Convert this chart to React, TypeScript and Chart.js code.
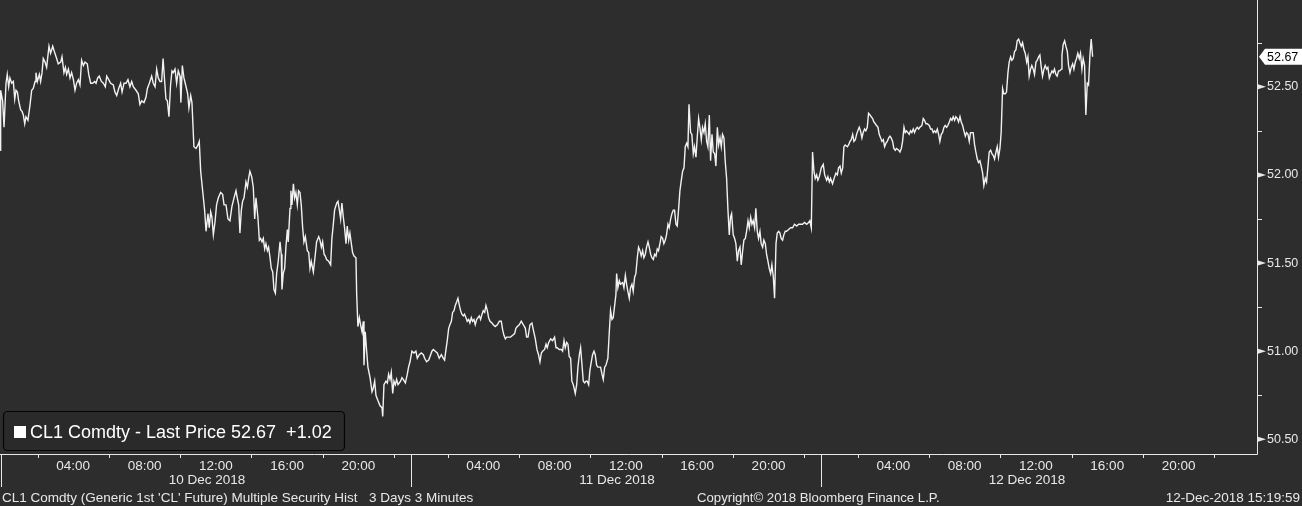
import React, { useEffect, useRef } from "react";
import { Chart, registerables } from "chart.js";

Chart.register(...registerables);

// ---- Data: 3-minute CL1 prices, x = trading hours elapsed since 10 Dec 00:00
// (the daily 22:00-23:00 settlement break is removed, as on the Bloomberg axis)
const DEC10_HOURS = [
  -0.10, -0.07, 0.04, 0.12, 0.23, 0.30, 0.38, 0.45, 0.55, 0.64, 0.72, 0.79, 0.87, 0.94, 1.05, 1.13, 1.20, 1.28, 1.35, 1.46,
  1.58, 1.67, 1.76, 1.86, 1.91, 1.99, 2.10, 2.17, 2.25, 2.32, 2.42, 2.51, 2.64, 2.73, 2.85, 2.94, 3.07, 3.16, 3.30, 3.37,
  3.48, 3.56, 3.63, 3.73, 3.82, 3.91, 4.01, 4.10, 4.19, 4.29, 4.38, 4.47, 4.57, 4.66, 4.79, 4.87, 4.98, 5.09, 5.20, 5.28,
  5.37, 5.46, 5.58, 5.69, 5.80, 5.88, 5.99, 6.10, 6.25, 6.34, 6.44, 6.55, 6.66, 6.74, 6.85, 6.96, 7.07, 7.18, 7.28, 7.37,
  7.52, 7.65, 7.74, 7.84, 7.97, 8.08, 8.16, 8.27, 8.40, 8.49, 8.59, 8.68, 8.77, 8.87, 8.96, 9.04, 9.13, 9.20, 9.28, 9.37,
  9.46, 9.54, 9.61, 9.71, 9.80, 9.89, 9.99, 10.04, 10.12, 10.21, 10.33, 10.42, 10.49, 10.59, 10.66, 10.77, 10.89, 11.00, 11.07, 11.15,
  11.26, 11.37, 11.45, 11.56, 11.63, 11.71, 11.78, 11.86, 11.95, 12.04, 12.14, 12.27, 12.38, 12.46, 12.57, 12.68, 12.79, 12.90, 13.02, 13.13,
  13.20, 13.28, 13.35, 13.43, 13.50, 13.58, 13.69, 13.77, 13.84, 13.91, 14.01, 14.10, 14.18, 14.25, 14.36, 14.44, 14.51, 14.59, 14.66, 14.74,
  14.81, 14.89, 14.96, 15.04, 15.11, 15.19, 15.26, 15.34, 15.41, 15.50, 15.60, 15.67, 15.71, 15.78, 15.86, 15.93, 16.01, 16.06, 16.16, 16.21,
  16.27, 16.35, 16.42, 16.49, 16.57, 16.64, 16.72, 16.79, 16.87, 16.94, 17.02, 17.13, 17.21, 17.28, 17.35, 17.47, 17.58, 17.65, 17.77, 17.84,
  17.92, 17.99, 18.07, 18.14, 18.21, 18.33, 18.44, 18.51, 18.59, 18.66, 18.78, 18.85, 18.93, 19.00, 19.07, 19.15, 19.22, 19.30, 19.37, 19.45,
  19.52, 19.60, 19.67, 19.75, 19.86, 19.90, 19.97, 20.05, 20.12, 20.20, 20.27, 20.31, 20.38, 20.46, 20.53, 20.65, 20.76, 20.83, 20.91, 20.98,
  21.09, 21.21, 21.32, 21.36, 21.43, 21.54, 21.62, 21.69, 21.77, 21.84, 21.92, 21.99, 22.07, 22.14, 22.22, 22.29, 22.36, 22.44, 22.51, 22.63,
  22.74, 22.81, 22.89,
];
const DEC10_PRICES = [
  52.14, 52.48, 52.42, 52.27, 52.52, 52.57, 52.50, 52.55, 52.52, 52.53, 52.43, 52.48, 52.47, 52.42, 52.37, 52.36, 52.34, 52.29, 52.33, 52.31,
  52.40, 52.48, 52.49, 52.53, 52.58, 52.53, 52.57, 52.53, 52.58, 52.66, 52.64, 52.61, 52.73, 52.69, 52.73, 52.70, 52.66, 52.63, 52.64, 52.67,
  52.58, 52.61, 52.57, 52.60, 52.55, 52.58, 52.54, 52.48, 52.52, 52.54, 52.51, 52.65, 52.62, 52.64, 52.63, 52.57, 52.52, 52.52, 52.53, 52.52,
  52.55, 52.56, 52.53, 52.52, 52.50, 52.56, 52.54, 52.52, 52.51, 52.47, 52.45, 52.49, 52.52, 52.47, 52.52, 52.52, 52.54, 52.50, 52.53, 52.50,
  52.48, 52.46, 52.40, 52.42, 52.41, 52.44, 52.49, 52.52, 52.56, 52.52, 52.50, 52.60, 52.55, 52.53, 52.53, 52.66, 52.53, 52.43, 52.42, 52.33,
  52.51, 52.59, 52.58, 52.60, 52.52, 52.59, 52.56, 52.41, 52.62, 52.55, 52.50, 52.46, 52.38, 52.45, 52.41, 52.16, 52.15, 52.17, 52.19, 52.02,
  51.91, 51.80, 51.68, 51.78, 51.70, 51.79, 51.76, 51.66, 51.73, 51.83, 51.87, 51.90, 51.89, 51.83, 51.83, 51.75, 51.74, 51.82, 51.87, 51.91,
  51.87, 51.83, 51.67, 51.80, 51.85, 51.87, 51.96, 51.93, 51.98, 52.02, 51.99, 51.93, 51.75, 51.87, 51.76, 51.63, 51.64, 51.62, 51.64, 51.58,
  51.61, 51.57, 51.59, 51.53, 51.47, 51.45, 51.35, 51.33, 51.44, 51.51, 51.62, 51.55, 51.35, 51.44, 51.47, 51.59, 51.69, 51.62, 51.81, 51.91,
  51.83, 51.95, 51.87, 51.90, 51.83, 51.91, 51.90, 51.83, 51.70, 51.62, 51.65, 51.57, 51.56, 51.47, 51.51, 51.45, 51.55, 51.62, 51.65, 51.63,
  51.59, 51.62, 51.55, 51.54, 51.52, 51.51, 51.49, 51.64, 51.72, 51.80, 51.84, 51.85, 51.80, 51.75, 51.84, 51.76, 51.70, 51.61, 51.71, 51.63,
  51.67, 51.61, 51.56, 51.54, 51.53, 51.32, 51.14, 51.19, 51.15, 51.11, 51.17, 50.92, 51.11, 51.00, 50.91, 50.85, 50.77, 50.79, 50.83, 50.75,
  50.72, 50.69, 50.68, 50.63, 50.81, 50.83, 50.82, 50.87, 50.84, 50.88, 50.76, 50.83, 50.81, 50.84, 50.81, 50.82, 50.83, 50.85, 50.84, 50.82,
  50.87, 50.91, 50.94,
];

const DEC11_HOURS = [
  23.00, 23.11, 23.22, 23.30, 23.41, 23.52, 23.64, 23.71, 23.82, 23.94, 24.05, 24.12, 24.20, 24.31, 24.42, 24.53, 24.65, 24.76, 24.83, 24.91,
  24.98, 25.06, 25.13, 25.21, 25.28, 25.36, 25.43, 25.51, 25.58, 25.66, 25.73, 25.80, 25.88, 25.95, 26.03, 26.10, 26.18, 26.25, 26.33, 26.40,
  26.48, 26.55, 26.63, 26.70, 26.78, 26.85, 26.93, 27.00, 27.08, 27.15, 27.23, 27.30, 27.38, 27.49, 27.56, 27.67, 27.79, 27.90, 28.01, 28.09,
  28.16, 28.24, 28.31, 28.42, 28.53, 28.65, 28.76, 28.83, 28.91, 29.02, 29.13, 29.25, 29.36, 29.43, 29.51, 29.62, 29.73, 29.81, 29.92, 30.01,
  30.10, 30.18, 30.26, 30.33, 30.44, 30.52, 30.59, 30.67, 30.78, 30.89, 31.00, 31.08, 31.15, 31.26, 31.38, 31.45, 31.53, 31.60, 31.68, 31.75,
  31.82, 31.90, 31.97, 32.05, 32.16, 32.24, 32.31, 32.39, 32.46, 32.54, 32.61, 32.69, 32.76, 32.83, 32.91, 32.98, 33.06, 33.13, 33.21, 33.28,
  33.36, 33.43, 33.51, 33.58, 33.66, 33.73, 33.81, 33.88, 33.99, 34.07, 34.14, 34.22, 34.29, 34.37, 34.44, 34.48, 34.55, 34.63, 34.70, 34.82,
  34.89, 34.97, 35.04, 35.11, 35.19, 35.26, 35.34, 35.41, 35.49, 35.56, 35.64, 35.71, 35.79, 35.86, 35.94, 36.01, 36.09, 36.16, 36.24, 36.31,
  36.39, 36.46, 36.54, 36.61, 36.69, 36.76, 36.83, 36.91, 36.98, 37.06, 37.13, 37.21, 37.28, 37.36, 37.43, 37.51, 37.58, 37.66, 37.73, 37.81,
  37.88, 37.96, 38.03, 38.11, 38.18, 38.26, 38.33, 38.41, 38.48, 38.54, 38.63, 38.70, 38.78, 38.85, 38.93, 39.00, 39.08, 39.15, 39.23, 39.30,
  39.38, 39.45, 39.53, 39.60, 39.68, 39.75, 39.83, 39.90, 39.98, 40.05, 40.13, 40.20, 40.28, 40.35, 40.42, 40.50, 40.57, 40.65, 40.72, 40.80,
  40.87, 40.93, 41.02, 41.10, 41.17, 41.25, 41.32, 41.40, 41.47, 41.55, 41.62, 41.70, 41.77, 41.85, 41.92, 42.00, 42.07, 42.14, 42.22, 42.29,
  42.37, 42.44, 42.52, 42.59, 42.67, 42.74, 42.82, 42.89, 42.97, 43.04, 43.12, 43.19, 43.27, 43.34, 43.42, 43.49, 43.57, 43.64, 43.71, 43.79,
  43.86, 43.94, 44.01, 44.13, 44.24, 44.35, 44.46, 44.58, 44.69, 44.80, 44.91, 45.02, 45.14, 45.25, 45.32, 45.40, 45.47, 45.55, 45.62, 45.70,
  45.77, 45.85, 45.96,
];
const DEC11_PRICES = [
  51.00, 50.99, 51.00, 50.96, 50.98, 50.99, 50.98, 50.96, 50.94, 50.95, 50.98, 51.00, 51.01, 51.00, 50.99, 50.96, 50.98, 50.96, 50.95, 51.01,
  51.06, 51.13, 51.15, 51.17, 51.22, 51.23, 51.26, 51.28, 51.30, 51.26, 51.23, 51.21, 51.20, 51.21, 51.19, 51.17, 51.18, 51.16, 51.19, 51.17,
  51.18, 51.15, 51.18, 51.19, 51.20, 51.18, 51.21, 51.23, 51.22, 51.26, 51.23, 51.19, 51.17, 51.16, 51.15, 51.14, 51.15, 51.17, 51.17, 51.12,
  51.09, 51.07, 51.08, 51.08, 51.08, 51.09, 51.10, 51.13, 51.14, 51.15, 51.17, 51.15, 51.13, 51.08, 51.08, 51.15, 51.16, 51.12, 51.07, 51.01,
  50.98, 50.94, 50.99, 51.00, 51.01, 51.04, 51.02, 51.05, 51.07, 51.06, 51.08, 51.02, 51.02, 51.01, 51.01, 51.00, 51.06, 51.02, 51.05, 51.04,
  50.97, 50.96, 50.83, 50.81, 50.76, 50.81, 50.91, 50.98, 51.02, 50.92, 50.83, 50.82, 50.83, 50.83, 50.81, 50.89, 50.94, 50.98, 51.00, 50.98,
  50.92, 50.91, 50.91, 50.91, 50.87, 50.84, 50.91, 50.92, 50.96, 51.11, 51.23, 51.18, 51.19, 51.26, 51.32, 51.44, 51.36, 51.40, 51.38, 51.39,
  51.36, 51.43, 51.38, 51.34, 51.30, 51.36, 51.38, 51.34, 51.42, 51.44, 51.53, 51.59, 51.57, 51.54, 51.57, 51.53, 51.55, 51.59, 51.62, 51.59,
  51.55, 51.53, 51.52, 51.55, 51.54, 51.58, 51.57, 51.61, 51.65, 51.64, 51.61, 51.63, 51.66, 51.72, 51.70, 51.75, 51.78, 51.80, 51.80, 51.72,
  51.71, 51.81, 51.91, 51.97, 52.02, 52.04, 52.16, 52.18, 52.16, 52.40, 52.24, 52.23, 52.12, 52.16, 52.10, 52.21, 52.32, 52.27, 52.20, 52.27,
  52.24, 52.29, 52.19, 52.16, 52.34, 52.08, 52.23, 52.13, 52.12, 52.05, 52.27, 52.17, 52.21, 52.16, 52.23, 52.21, 52.08, 51.98, 51.81, 51.66,
  51.76, 51.78, 51.66, 51.64, 51.61, 51.51, 51.57, 51.59, 51.49, 51.57, 51.63, 51.64, 51.68, 51.74, 51.70, 51.76, 51.72, 51.74, 51.70, 51.81,
  51.68, 51.64, 51.68, 51.61, 51.59, 51.63, 51.61, 51.55, 51.51, 51.47, 51.44, 51.49, 51.42, 51.30, 51.61, 51.67, 51.68, 51.67, 51.64, 51.63,
  51.66, 51.68, 51.68, 51.69, 51.70, 51.70, 51.72, 51.71, 51.72, 51.72, 51.72, 51.73, 51.72, 51.73, 51.74, 51.70, 52.13, 52.02, 51.98, 52.00,
  51.97, 51.99, 52.04,
];

const DEC12_HOURS = [
  46.07, 46.15, 46.26, 46.33, 46.41, 46.48, 46.59, 46.71, 46.78, 46.86, 46.93, 47.01, 47.08, 47.16, 47.23, 47.30, 47.42, 47.49, 47.57, 47.64,
  47.72, 47.79, 47.87, 47.94, 48.01, 48.09, 48.16, 48.24, 48.31, 48.39, 48.46, 48.54, 48.61, 48.69, 48.76, 48.84, 48.91, 48.99, 49.06, 49.14,
  49.21, 49.29, 49.36, 49.44, 49.51, 49.59, 49.66, 49.74, 49.81, 49.88, 49.96, 50.03, 50.11, 50.18, 50.30, 50.37, 50.45, 50.52, 50.60, 50.67,
  50.74, 50.82, 50.89, 50.97, 51.04, 51.12, 51.19, 51.27, 51.34, 51.42, 51.49, 51.60, 51.68, 51.75, 51.83, 51.90, 52.02, 52.09, 52.17, 52.24,
  52.32, 52.39, 52.47, 52.54, 52.61, 52.69, 52.76, 52.84, 52.91, 52.99, 53.06, 53.14, 53.21, 53.29, 53.36, 53.44, 53.51, 53.59, 53.66, 53.74,
  53.81, 53.89, 53.96, 54.04, 54.11, 54.19, 54.26, 54.33, 54.41, 54.48, 54.56, 54.63, 54.71, 54.78, 54.86, 54.93, 55.01, 55.08, 55.16, 55.23,
  55.31, 55.38, 55.46, 55.53, 55.61, 55.68, 55.76, 55.83, 55.90, 55.98, 56.05, 56.13, 56.20, 56.28, 56.35, 56.43, 56.50, 56.58, 56.65, 56.73,
  56.80, 56.88, 56.95, 57.03, 57.10, 57.18, 57.25, 57.33, 57.40, 57.48, 57.55, 57.62, 57.70, 57.77, 57.85, 57.92, 58.00, 58.07, 58.15, 58.22,
  58.30, 58.37, 58.45, 58.52, 58.60, 58.67, 58.75, 58.82, 58.90, 58.97, 59.04, 59.12, 59.19, 59.27, 59.34, 59.42, 59.46, 59.53, 59.61, 59.68,
  59.76, 59.83, 59.91, 59.98, 60.06, 60.13, 60.21, 60.28, 60.35, 60.43, 60.50, 60.58, 60.65, 60.73, 60.80, 60.88, 60.95, 61.03, 61.10, 61.18,
];
const DEC12_PRICES = [
  52.06, 52.00, 51.97, 51.99, 51.96, 51.98, 51.95, 51.99, 52.01, 52.00, 52.04, 52.05, 52.01, 52.04, 52.16, 52.17, 52.16, 52.17, 52.19, 52.20,
  52.23, 52.19, 52.20, 52.23, 52.25, 52.27, 52.25, 52.21, 52.24, 52.26, 52.25, 52.27, 52.35, 52.34, 52.33, 52.32, 52.30, 52.29, 52.28, 52.27,
  52.23, 52.21, 52.19, 52.20, 52.16, 52.18, 52.19, 52.21, 52.22, 52.21, 52.19, 52.15, 52.14, 52.15, 52.14, 52.13, 52.15, 52.19, 52.27, 52.24,
  52.25, 52.24, 52.23, 52.25, 52.24, 52.26, 52.24, 52.26, 52.27, 52.26, 52.27, 52.28, 52.32, 52.31, 52.29, 52.29, 52.28, 52.26, 52.26, 52.24,
  52.25, 52.24, 52.26, 52.23, 52.19, 52.23, 52.24, 52.27, 52.28, 52.27, 52.28, 52.30, 52.32, 52.31, 52.33, 52.31, 52.33, 52.32, 52.30, 52.33,
  52.30, 52.28, 52.25, 52.22, 52.24, 52.23, 52.19, 52.24, 52.24, 52.24, 52.17, 52.13, 52.09, 52.07, 52.08, 52.05, 52.01, 51.94, 51.98, 51.96,
  52.05, 52.13, 52.14, 52.12, 52.11, 52.09, 52.13, 52.16, 52.10, 52.15, 52.24, 52.49, 52.46, 52.46, 52.47, 52.58, 52.64, 52.67, 52.65, 52.66,
  52.70, 52.71, 52.76, 52.77, 52.75, 52.73, 52.75, 52.71, 52.69, 52.64, 52.67, 52.56, 52.60, 52.62, 52.60, 52.57, 52.64, 52.65, 52.67, 52.68,
  52.61, 52.56, 52.60, 52.62, 52.60, 52.61, 52.55, 52.57, 52.59, 52.58, 52.60, 52.57, 52.56, 52.59, 52.59, 52.60, 52.68, 52.74, 52.76, 52.73,
  52.70, 52.62, 52.58, 52.61, 52.63, 52.60, 52.64, 52.66, 52.69, 52.66, 52.69, 52.60, 52.66, 52.62, 52.34, 52.52, 52.51, 52.68, 52.77, 52.67,
];

// ---- Axis / labels
const Y_MAJOR_TICKS = [50.5, 51.0, 51.5, 52.0, 52.5];
const Y_MINOR_TICKS = [50.75, 51.25, 51.75, 52.25, 52.75];
const TIME_LABEL_HOURS = [4, 8, 12, 16, 20, 27, 31, 35, 39, 43, 50, 54, 58, 62, 66];
const TIME_LABELS = [
  "04:00", "08:00", "12:00", "16:00", "20:00",
  "04:00", "08:00", "12:00", "16:00", "20:00",
  "04:00", "08:00", "12:00", "16:00", "20:00",
];
const TIME_TICK_HOURS = [2, 6, 10, 14, 18, 22, 25, 29, 33, 37, 41, 45, 48, 52, 56, 60, 64, 68];
const DAY_START_HOURS = [0, 23, 46];
const DATE_LABELS = ["10 Dec 2018", "11 Dec 2018", "12 Dec 2018"];
const DATE_CENTER_HOURS = [11.5, 34.5, 57.5];
const LAST_PRICE = 52.67;
const LEGEND_TEXT = "CL1 Comdty - Last Price 52.67  +1.02";
const FOOTER_LEFT = "CL1 Comdty (Generic 1st 'CL' Future) Multiple Security Hist";
const FOOTER_PERIOD = "3 Days 3 Minutes";
const FOOTER_COPYRIGHT = "Copyright\u00A9 2018 Bloomberg Finance L.P.";
const FOOTER_STAMP = "12-Dec-2018 15:19:59";

const X_MIN = -0.107;
const X_MAX = 70.4;
const Y_MIN = 50.417;
const Y_MAX = 52.992;

const BG = "#2d2d2d";
const FG = "#e8e8e8";
const LINE = "#f2f2f2";
const FONT = '"Liberation Sans", Arial, sans-serif';

const decorPlugin = {
  id: "bbgDecor",
  afterDraw(chart: any) {
    const { ctx, chartArea: a, scales } = chart;
    const x = scales.x;
    const y = scales.y;
    ctx.save();
    ctx.strokeStyle = FG;
    ctx.fillStyle = FG;
    ctx.lineWidth = 1;

    // frame: right border + bottom axis line
    ctx.beginPath();
    ctx.moveTo(a.right + 0.5, 0);
    ctx.lineTo(a.right + 0.5, a.bottom + 0.5);
    ctx.lineTo(0, a.bottom + 0.5);
    ctx.stroke();

    // y minor ticks
    ctx.beginPath();
    for (const v of Y_MINOR_TICKS) {
      const py = Math.round(y.getPixelForValue(v)) + 0.5;
      ctx.moveTo(a.right, py);
      ctx.lineTo(a.right + 5, py);
    }
    ctx.stroke();
    // y major tick pointers
    for (const v of Y_MAJOR_TICKS) {
      const py = y.getPixelForValue(v);
      ctx.beginPath();
      ctx.moveTo(a.right + 1, py - 2.5);
      ctx.lineTo(a.right + 9, py);
      ctx.lineTo(a.right + 1, py + 2.5);
      ctx.closePath();
      ctx.fill();
    }

    // x ticks and day separators
    ctx.beginPath();
    for (const h of TIME_TICK_HOURS) {
      const px = Math.round(x.getPixelForValue(h)) + 0.5;
      ctx.moveTo(px, a.bottom);
      ctx.lineTo(px, a.bottom + 4);
    }
    for (const h of DAY_START_HOURS) {
      const px = Math.round(x.getPixelForValue(h)) - 0.5;
      ctx.moveTo(px, a.bottom);
      ctx.lineTo(px, a.bottom + 33);
    }
    ctx.stroke();

    // time + date labels
    ctx.font = `13.5px ${FONT}`;
    ctx.textAlign = "center";
    ctx.textBaseline = "alphabetic";
    TIME_LABEL_HOURS.forEach((h, i) => {
      ctx.fillText(TIME_LABELS[i], x.getPixelForValue(h), a.bottom + 16);
    });
    DATE_CENTER_HOURS.forEach((h, i) => {
      ctx.fillText(DATE_LABELS[i], x.getPixelForValue(h), a.bottom + 30);
    });

    // footer
    ctx.textAlign = "left";
    ctx.fillText(FOOTER_LEFT, 2, a.bottom + 48);
    ctx.fillText(FOOTER_PERIOD, 369, a.bottom + 48);
    ctx.font = `13.2px ${FONT}`;
    ctx.fillText(FOOTER_COPYRIGHT, 697, a.bottom + 48);
    ctx.font = `13.5px ${FONT}`;
    ctx.textAlign = "right";
    ctx.fillText(FOOTER_STAMP, chart.width - 2, a.bottom + 48);

    // last price tag
    const ly = y.getPixelForValue(LAST_PRICE);
    ctx.fillStyle = "#ffffff";
    ctx.beginPath();
    ctx.moveTo(a.right + 2, ly);
    ctx.lineTo(a.right + 8, ly - 8);
    ctx.lineTo(chart.width, ly - 8);
    ctx.lineTo(chart.width, ly + 8);
    ctx.lineTo(a.right + 8, ly + 8);
    ctx.closePath();
    ctx.fill();
    ctx.fillStyle = "#000000";
    ctx.textAlign = "left";
    ctx.textBaseline = "middle";
    ctx.font = `12.5px ${FONT}`;
    ctx.fillText(LAST_PRICE.toFixed(2), a.right + 10, ly + 0.5);

    // legend box
    ctx.fillStyle = "#2a2a2a";
    ctx.strokeStyle = "#050505";
    ctx.lineWidth = 1.2;
    ctx.beginPath();
    ctx.roundRect(3.5, 411.5, 341, 39, 4);
    ctx.fill();
    ctx.stroke();
    ctx.fillStyle = "#ffffff";
    ctx.fillRect(14, 426, 12, 12);
    ctx.textBaseline = "alphabetic";
    ctx.font = `18px ${FONT}`;
    ctx.fillText(LEGEND_TEXT, 30, 438);

    ctx.restore();
  },
};

export default function App() {
  const ref = useRef<HTMLCanvasElement | null>(null);

  useEffect(() => {
    if (!ref.current) return;
    const hours = [...DEC10_HOURS, ...DEC11_HOURS, ...DEC12_HOURS];
    const prices = [...DEC10_PRICES, ...DEC11_PRICES, ...DEC12_PRICES];
    const points = hours.map((h, i) => ({ x: h, y: prices[i] }));

    const chart = new Chart(ref.current, {
      type: "line",
      data: {
        datasets: [
          {
            label: "CL1 Comdty - Last Price",
            data: points,
            borderColor: LINE,
            borderWidth: 1.4,
            pointRadius: 0,
            tension: 0,
            fill: false,
          },
        ],
      },
      options: {
        responsive: false,
        animation: false,
        devicePixelRatio: 1,
        parsing: false,
        layout: { padding: 0 },
        plugins: { legend: { display: false }, tooltip: { enabled: false } },
        scales: {
          x: {
            type: "linear",
            min: X_MIN,
            max: X_MAX,
            afterFit: (s: any) => {
              s.height = 52;
              s.paddingLeft = 0;
              s.paddingRight = 0;
              s.paddingTop = 0;
              s.paddingBottom = 0;
            },
            ticks: { display: false },
            grid: { display: false },
            border: { display: false },
          },
          y: {
            type: "linear",
            position: "right",
            min: Y_MIN,
            max: Y_MAX,
            afterFit: (s: any) => {
              s.width = 45;
              s.paddingTop = 0;
              s.paddingBottom = 0;
              s.paddingLeft = 0;
              s.paddingRight = 0;
            },
            afterBuildTicks: (s: any) => {
              s.ticks = Y_MAJOR_TICKS.map((v) => ({ value: v }));
            },
            grid: { display: false, drawTicks: false },
            border: { display: false },
            ticks: {
              color: FG,
              padding: 10,
              autoSkip: false,
              font: { family: FONT, size: 12.5 },
              callback: (v: any) => Number(v).toFixed(2),
            },
          },
        },
      },
      plugins: [decorPlugin],
    });
    return () => chart.destroy();
  }, []);

  return (
    <div style={{ position: "fixed", left: 0, top: 0, width: 1302, height: 506, background: BG, overflow: "hidden" }}>
      <canvas ref={ref} width={1302} height={506} style={{ display: "block" }} />
    </div>
  );
}
